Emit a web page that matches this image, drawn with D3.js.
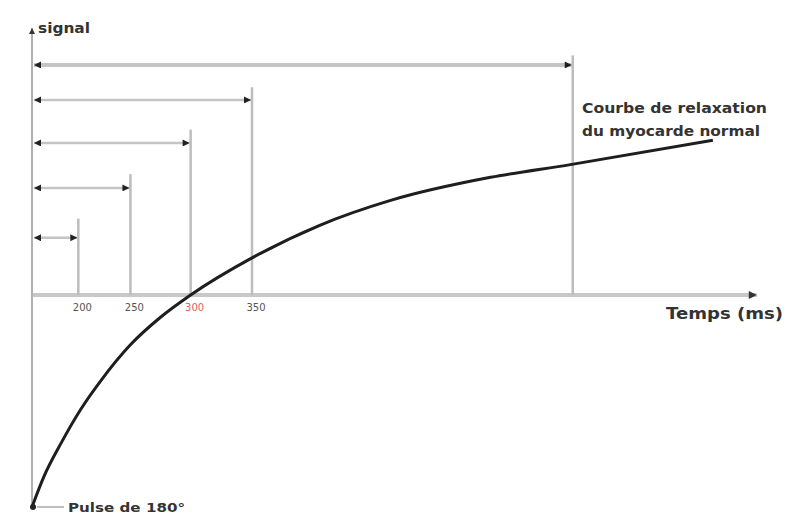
<!DOCTYPE html>
<html>
<head>
<meta charset="utf-8">
<script src="https://cdn.jsdelivr.net/npm/d3@7/dist/d3.min.js"></script>
<style>
  html, body { margin: 0; padding: 0; background: #ffffff; }
  svg { display: block; }
  text { font-family: "DejaVu Sans", sans-serif; }
</style>
</head>
<body>
<svg id="chart" width="794" height="522"></svg>
<script>
// ---- data ----
const curveT = [160, 170, 185, 202, 220, 245, 271, 297, 350, 409, 469, 556, 625, 748];
const curveS = [-1, -0.86, -0.70, -0.54, -0.40, -0.235, -0.105, 0, 0.175, 0.33, 0.445, 0.555, 0.615, 0.73];
const tiValues = [200, 245, 297, 350, 627];
const tiLabels = ["200", "250", "300", "350", ""];
const tiHighlight = [false, false, true, false, false];
const arrowLevels = [0.27, 0.505, 0.717, 0.92, 1.085];
const lineTops = [0.36, 0.57, 0.78, 0.98, 1.13];
const xDomain = [160, 786];
const yDomain = [-1, 1.26];
const xTitle = "Temps (ms)";
const yTitle = "signal";
const curveLabel = ["Courbe de relaxation", "du myocarde normal"];
const pulseLabel = "Pulse de 180°";

// ---- scales ----
const x = d3.scaleLinear().domain([160, 350]).range([32, 252]);
const y = d3.scaleLinear().domain([-1, 0]).range([507, 295]);

const svg = d3.select("#chart");
const defs = svg.append("defs");
function marker(id, orient) {
  defs.append("marker")
    .attr("id", id)
    .attr("viewBox", "0 0 10 10")
    .attr("refX", 10).attr("refY", 5)
    .attr("markerUnits", "userSpaceOnUse")
    .attr("markerWidth", 8).attr("markerHeight", 7)
    .attr("orient", orient)
    .append("path")
    .attr("d", "M0,0 L10,5 L0,10 Z")
    .attr("fill", "#222");
}
marker("arrowEnd", "auto");
marker("arrowStart", "auto-start-reverse");

// axes
svg.append("line")
  .attr("x1", x(xDomain[0])).attr("x2", x(xDomain[1]))
  .attr("y1", y(0)).attr("y2", y(0))
  .attr("stroke", "#c8c8c8").attr("stroke-width", 4);
svg.append("path")
  .attr("d", d3.line()([[x(xDomain[1]) - 8, y(0) - 4], [x(xDomain[1]), y(0)], [x(xDomain[1]) - 8, y(0) + 4]]))
  .attr("fill", "#333");
svg.append("line")
  .attr("x1", x(xDomain[0])).attr("x2", x(xDomain[0]))
  .attr("y1", y(yDomain[0])).attr("y2", y(yDomain[1]))
  .attr("stroke", "#b0b0b0").attr("stroke-width", 2);
svg.append("path")
  .attr("d", d3.line()([[x(xDomain[0]) - 3, y(yDomain[1]) + 6], [x(xDomain[0]), y(yDomain[1])], [x(xDomain[0]) + 3, y(yDomain[1]) + 6]]))
  .attr("fill", "#333");

// vertical TI lines
svg.selectAll(".ti").data(tiValues).join("line")
  .attr("class", "ti")
  .attr("x1", d => x(d)).attr("x2", d => x(d))
  .attr("y1", y(0)).attr("y2", (d, i) => y(lineTops[i]))
  .attr("stroke", "#bdbdbd").attr("stroke-width", 2.5);

// horizontal double arrows
svg.selectAll(".harrow").data(tiValues).join("line")
  .attr("class", "harrow")
  .attr("x1", x(xDomain[0]) + 2).attr("x2", d => x(d) - 1)
  .attr("y1", (d, i) => y(arrowLevels[i])).attr("y2", (d, i) => y(arrowLevels[i]))
  .attr("stroke", "#c4c4c4")
  .attr("stroke-width", (d, i) => i === tiValues.length - 1 ? 4 : 2.5)
  .attr("marker-start", "url(#arrowStart)")
  .attr("marker-end", "url(#arrowEnd)");

// tick labels
svg.selectAll(".tl").data(tiValues).join("text")
  .attr("class", "tl")
  .attr("x", d => x(d) + 4).attr("y", y(0) + 16)
  .attr("text-anchor", "middle")
  .attr("font-size", 10)
  .attr("fill", (d, i) => tiHighlight[i] ? "#e06060" : "#555")
  .text((d, i) => tiLabels[i]);

// curve
const pts = curveT.map((t, i) => [t, curveS[i]]);
svg.append("path")
  .datum(pts)
  .attr("d", d3.line().x(d => x(d[0])).y(d => y(d[1])).curve(d3.curveMonotoneX))
  .attr("fill", "none").attr("stroke", "#1e1e1e").attr("stroke-width", 3);

// labels
svg.append("text").attr("x", 38).attr("y", y(yDomain[1]) + 5)
  .attr("font-size", 14).attr("font-weight", "bold").attr("fill", "#333")
  .attr("textLength", 52).attr("lengthAdjust", "spacingAndGlyphs")
  .text(yTitle);
svg.append("text").attr("x", 666).attr("y", y(0) + 24)
  .attr("font-size", 15.5).attr("font-weight", "bold").attr("fill", "#333")
  .attr("textLength", 117).attr("lengthAdjust", "spacingAndGlyphs")
  .text(xTitle);
svg.append("text").attr("x", 582).attr("y", 113)
  .attr("font-size", 14).attr("font-weight", "bold").attr("fill", "#333")
  .selectAll("tspan").data(curveLabel).join("tspan")
  .attr("x", 582).attr("dy", (d, i) => i === 0 ? 0 : 23)
  .attr("textLength", (d, i) => i === 0 ? 185 : 178)
  .attr("lengthAdjust", "spacingAndGlyphs")
  .text(d => d);

// pulse label with leader
svg.append("line")
  .attr("x1", x(curveT[0]) + 5).attr("x2", x(curveT[0]) + 32)
  .attr("y1", y(curveS[0])).attr("y2", y(curveS[0]))
  .attr("stroke", "#aaa").attr("stroke-width", 1.5);
svg.append("circle").attr("cx", x(curveT[0]) + 1).attr("cy", y(curveS[0])).attr("r", 3).attr("fill", "#222");
svg.append("text").attr("x", x(curveT[0]) + 36).attr("y", y(curveS[0]) + 5)
  .attr("font-size", 13).attr("font-weight", "bold").attr("fill", "#333")
  .attr("textLength", 117).attr("lengthAdjust", "spacingAndGlyphs")
  .text(pulseLabel);
</script>
</body>
</html>
